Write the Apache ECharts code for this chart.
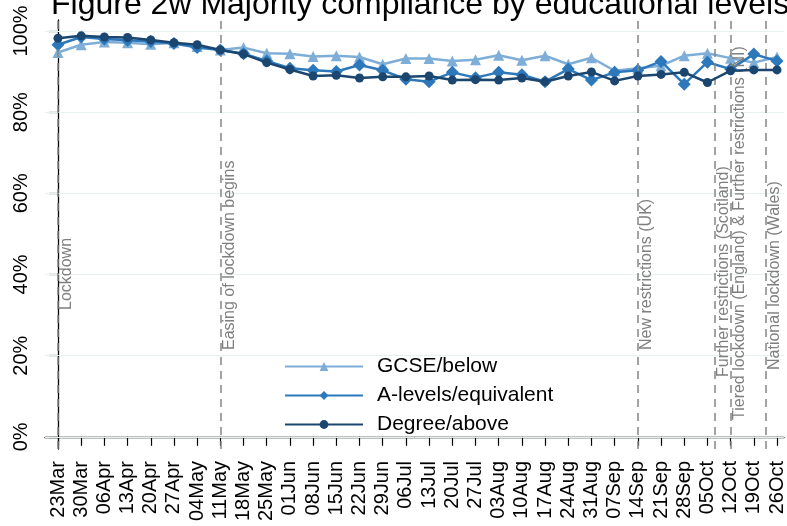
<!DOCTYPE html>
<html>
<head>
<meta charset="utf-8">
<title>Figure 2w</title>
<script src="https://cdn.jsdelivr.net/npm/echarts@6/dist/echarts.min.js"></script>
<style>
  html, body { margin: 0; padding: 0; background: #fff; }
  #main { width: 787px; height: 526px; }
</style>
</head>
<body>
<div id="main"></div>
<script>
// week labels on the x axis
const weeks = ['23Mar', '30Mar', '06Apr', '13Apr', '20Apr', '27Apr', '04May', '11May', '18May', '25May',
  '01Jun', '08Jun', '15Jun', '22Jun', '29Jun', '06Jul', '13Jul', '20Jul', '27Jul', '03Aug', '10Aug',
  '17Aug', '24Aug', '31Aug', '07Sep', '14Sep', '21Sep', '28Sep', '05Oct', '12Oct', '19Oct', '26Oct'];

// % majority compliance
const gcse = [94.7, 96.6, 97.3, 97.1, 96.7, 97.1, 96.2, 95.3, 95.9, 94.5, 94.4, 93.7, 93.9, 93.6, 91.8, 93.2,
  93.2, 92.6, 92.9, 94.0, 92.8, 93.9, 91.8, 93.4, 90.2, 90.8, 91.4, 93.9, 94.5, 93.3, 92.2, 93.6];
const alevels = [96.6, 98.5, 98.0, 97.7, 97.4, 96.9, 95.9, 95.3, 94.4, 92.6, 90.8, 90.3, 90.0, 91.6, 90.3, 88.1,
  87.5, 89.8, 88.5, 89.8, 89.2, 87.5, 90.6, 87.9, 89.8, 90.3, 92.5, 86.9, 92.3, 90.6, 94.3, 92.6];
const degree = [98.2, 98.8, 98.5, 98.4, 97.8, 97.1, 96.6, 95.3, 94.3, 92.2, 90.5, 88.9, 89.1, 88.4, 88.7, 88.7,
  88.9, 87.9, 88.0, 87.9, 88.4, 87.5, 88.9, 89.9, 87.7, 88.9, 89.3, 89.8, 87.3, 90.2, 90.4, 90.4];

const yTicks = [0, 20, 40, 60, 80, 100];

// policy events (position in weeks from 23Mar)
const eventNames = ['Lockdown', 'Easing of lockdown begins', 'New restrictions (UK)',
  'Further restrictions (Scotland)', 'Tiered lockdown (England) & Further restrictions (NI)',
  'National lockdown (Wales)'];
const eventWeeks = [0, 7, 25, 28.3, 29, 30.5];

const weekIdx = weeks.map((w, i) => i);
const font = 'Liberation Sans, Arial, sans-serif';

// how far up the dashed line each label starts (px)
const labelLift = [139, 99, 99, 72, 29, 79];

const guideLines = [];
yTicks.forEach(v => {
  guideLines.push({
    yAxis: v,
    lineStyle: { color: '#e8f0f2', width: 1, type: 'solid' },
    label: { show: false }
  });
});
eventWeeks.forEach((w, i) => {
  guideLines.push({
    xAxis: w,
    name: eventNames[i],
    lineStyle: { color: '#858585', width: 1.5, type: [8, 6] },
    label: {
      show: true,
      formatter: eventNames[i],
      position: 'insideStartBottom',
      distance: [labelLift[i], 1],
      color: '#7f7f7f',
      fontSize: 16,
      fontFamily: font
    }
  });
});

const chart = echarts.init(document.getElementById('main'));

chart.setOption({
  animation: false,
  backgroundColor: '#fff',
  title: {
    text: 'Figure 2w Majority compliance by educational levels',
    left: 51,
    top: -11,
    padding: 0,
    textStyle: { fontSize: 32, fontWeight: 'normal', color: '#000', fontFamily: font }
  },
  grid: { left: 45, right: -1, top: 20, bottom: 77 },
  legend: {
    data: ['GCSE/below', 'A-levels/equivalent', 'Degree/above'],
    orient: 'vertical',
    left: 279,
    top: 351,
    itemWidth: 78,
    itemHeight: 11,
    itemGap: 8,
    textStyle: { fontSize: 21, color: '#000', fontFamily: font, padding: [0, 0, 0, 9] }
  },
  xAxis: {
    type: 'value',
    min: -0.56,
    max: 31.3,
    axisLine: { lineStyle: { color: '#000', width: 1.3 } },
    axisTick: { customValues: weekIdx, length: 9, lineStyle: { color: '#000', width: 1.2 } },
    axisLabel: {
      customValues: weekIdx,
      formatter: v => weeks[v],
      rotate: 90,
      margin: 12,
      fontSize: 20,
      color: '#000',
      fontFamily: font
    },
    splitLine: { show: false }
  },
  yAxis: {
    type: 'value',
    min: -3,
    max: 102.7,
    axisLine: { show: true, lineStyle: { color: '#000', width: 1.3 } },
    axisTick: { show: true, customValues: yTicks, length: 9, lineStyle: { color: '#000', width: 1.2 } },
    axisLabel: {
      customValues: yTicks,
      formatter: '{value}%',
      rotate: 90,
      margin: 14,
      fontSize: 20,
      color: '#000',
      fontFamily: font
    },
    splitLine: { show: false }
  },
  series: [
    {
      name: 'guides',
      type: 'line',
      data: [],
      z: 1,
      silent: true,
      markLine: { silent: true, symbol: 'none', animation: false, data: guideLines }
    },
    {
      name: 'GCSE/below',
      type: 'line',
      z: 3,
      data: gcse.map((v, i) => [i, v]),
      color: '#7eaed8',
      symbol: 'triangle',
      symbolSize: 11,
      lineStyle: { width: 2.5 }
    },
    {
      name: 'A-levels/equivalent',
      type: 'line',
      z: 4,
      data: alevels.map((v, i) => [i, v]),
      color: '#2d78bb',
      symbol: 'diamond',
      symbolSize: 13,
      lineStyle: { width: 2.5 }
    },
    {
      name: 'Degree/above',
      type: 'line',
      z: 5,
      data: degree.map((v, i) => [i, v]),
      color: '#1b4670',
      symbol: 'circle',
      symbolSize: 9,
      lineStyle: { width: 2.5 }
    }
  ]
});
</script>
</body>
</html>
